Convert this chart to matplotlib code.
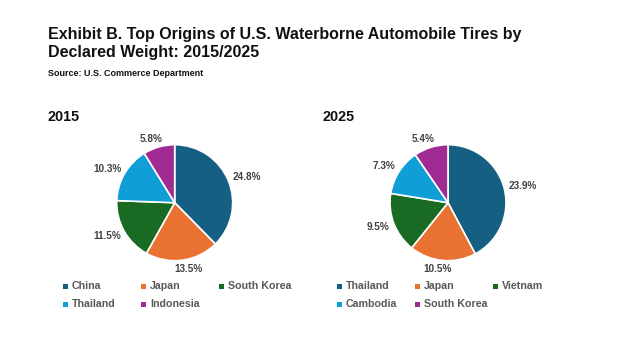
import numpy as np
import matplotlib
matplotlib.use('Agg')
import matplotlib.pyplot as plt
from matplotlib.patches import Rectangle

# data
names_2015 = ['China', 'Japan', 'South Korea', 'Thailand', 'Indonesia']
share_2015 = [24.8, 13.5, 11.5, 10.3, 5.8]
names_2025 = ['Thailand', 'Japan', 'Vietnam', 'Cambodia', 'South Korea']
share_2025 = [23.9, 10.5, 9.5, 7.3, 5.4]
colors = ['#156082', '#E97132', '#196B24', '#0F9ED5', '#A02B93']

title_lines = ['Exhibit B. Top Origins of U.S. Waterborne Automobile Tires by',
               'Declared Weight: 2015/2025']
source = 'Source: U.S. Commerce Department'

W, H = 624, 351
plt.rcParams['font.family'] = ['Liberation Sans', 'DejaVu Sans']
fig = plt.figure(figsize=(W / 100, H / 100), dpi=100)
renderer = fig.canvas.get_renderer()


def fx(x):
    return x / W


def fy(y):
    return 1 - y / H


def fit_text(x, y, s, width, size0, **kw):
    # scale the font so the text spans the given pixel width
    t = fig.text(fx(x), fy(y), s, fontsize=size0, **kw)
    w = t.get_window_extent(renderer).width
    t.set_fontsize(size0 * width / w)
    return t


fit_text(48, 39, title_lines[0], 469, 12, fontweight='bold', color='#111111', va='baseline')
t2 = fig.text(fx(48), fy(57), title_lines[1], fontweight='bold', color='#111111', va='baseline')
t2.set_fontsize(fig.texts[0].get_fontsize())
fit_text(48, 76, source, 155, 7, fontweight='bold', color='#111111', va='baseline')


def draw_pie(cx, cy, r, values, names, year, hx):
    fig.text(fx(hx), fy(121), year, fontsize=10.4, fontweight='bold',
             color='#111111', va='baseline')
    ax = fig.add_axes([fx(cx - r), fy(cy + r), 2 * r / W, 2 * r / H])
    wedges, _ = ax.pie(values, colors=colors, startangle=90, counterclock=False,
                       wedgeprops=dict(edgecolor='white', linewidth=1.2))
    ax.set_xlim(-1, 1)
    ax.set_ylim(-1, 1)
    gap = 5
    for w, v in zip(wedges, values):
        a = np.deg2rad((w.theta1 + w.theta2) / 2)
        c, s = np.cos(a), np.sin(a)
        t = ax.text(0, 0, f'{v}%', ha='center', va='center', fontsize=7.2,
                    fontweight='bold', color='#404040', clip_on=False)
        bb = t.get_window_extent(renderer)
        hw, hh = bb.width / 2, bb.height * 0.35
        px_ = (r + gap) * c + hw * np.sign(c) * np.sqrt(abs(c))
        py_ = (r + gap) * s + hh * np.sign(s) * np.sqrt(abs(s))
        t.set_position((px_ / r, py_ / r))

    # legend, three per row
    for i, (n, col) in enumerate(zip(names, colors)):
        x = hx + 15 + (i % 3) * 78
        y = 286 + (i // 3) * 18
        fig.add_artist(Rectangle((fx(x), fy(y + 2.5)), 5 / W, 5 / H,
                                 transform=fig.transFigure, color=col, lw=0))
        fig.text(fx(x + 9), fy(y), n, fontsize=7.7, fontweight='bold',
                 color='#595959', va='center')


draw_pie(174.7, 202.7, 58, share_2015, names_2015, '2015', 48)
draw_pie(448, 202.7, 58, share_2025, names_2025, '2025', 322)

fig.savefig('out.png', dpi=100, facecolor='white')
